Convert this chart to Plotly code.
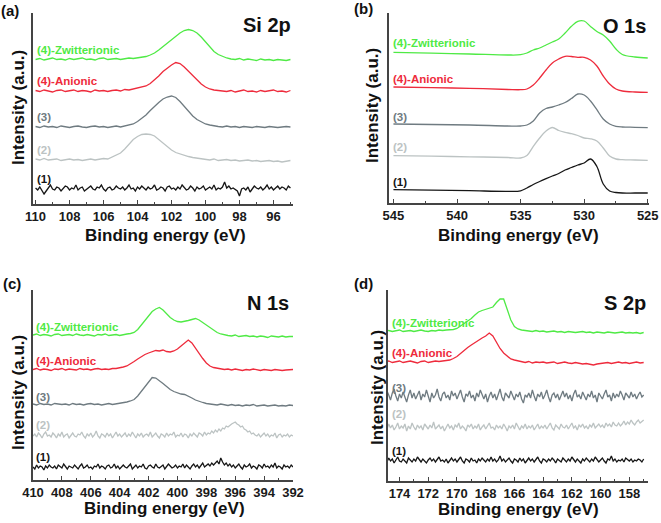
import numpy as np
import plotly.graph_objects as go

W, H = 661, 523

# ---------------- DATA ----------------
# Panel (a) Si 2p : 110 -> 95 eV
si_range = (110, 95)
si_1 = [16,14,17,14,10,13,16,19,15,14,
        17,16,13,15,18,17,14,16,15,19,
        14,16,17,13,15,16,18,15,14,17,
        16,19,15,13,16,17,14,15,18,16,
        15,17,14,16,19,15,16,13,17,15,
        18,16,14,17,15,16,19,14,15,17,
        16,13,17,18,15,16,14,17,15,19,
        16,14,15,18,16,13,17,15,16,18,
        14,16,17,15,19,14,16,15,17,22,
        16,18,15,16,14,13,8,15,16,14,
        17,12,15,18,16,15,17,14,16,19,
        15,17,14,16,18,15,17,16,14,18,
        16]
si_2 = [45,44,45.5,44,44.5,45,43.5,44.5,45,44,44.5,43.5,44.5,45,44,44.5,45.5,45,
        47,48.5,51,55,60,64.5,67.5,69.5,70,69.5,68,64.5,61,57,54,51.5,50,48.5,47.5,46.5,46,45,
        44.5,44,45,43.5,44,44.5,43.5,44,43,43.5,44,43,43.5,42.5,43,43.5,42.5,43,42,42.5,43.5]
si_3 = [77.5,76.5,78,77,77.5,76.5,78,77.5,76.5,77.5,78,77,76.5,77.5,78,77,77.5,76.5,77.5,78,77,78,
        78.5,80,82.5,85.5,89,93.5,98,101.5,105,107,108,106.5,102.5,97.5,92.5,88,84.5,82,80,79,78,
        77.5,77,78,77,77.5,76.5,77.5,77,76.5,77.5,77,76.5,77.5,77,76.5,77,77.5,77]
si_an = [113.5,112.5,114,113,112,113.5,114,112.5,113,114,112.5,113.5,113,112,114,113,113.5,112.5,113.5,114,113,114.5,114,115,
         115.5,116.5,118,120.5,124,128,132.5,136,139,141.5,140.5,137,132.5,128,124,120,117,115,114,
         113.5,113,112.5,113.5,112,113,114,112.5,113,112,113.5,112.5,113,114,112.5,113,112,113.5]
si_zw = [144.5,145.5,144,145,146,144.5,145,144,145.5,144.5,145,146,144.5,145,144,145.5,146,144.5,145,145.5,144.5,145,146,145.5,146,146.5,
         147.5,149,151,154,157.5,161,164.5,168,171,173.5,174.5,173.5,171,167,162,157,152.5,149.5,147.5,146,
         145,144.5,145.5,144,145,144.5,143.5,145,144,144.5,143.5,144.5,144,143.5,144.5]

# Panel (b) O 1s
o_x = [545, 542, 539, 536, 535, 534.5, 534, 533.5, 533, 532.5, 532, 531.5, 531,
       530.5, 530, 529.5, 529, 528.5, 528, 527.5, 527, 526, 525]
o_1 = [13.3, 12.8, 12.3, 11.7, 12.2, 15, 18.5, 21.5, 24.3, 27, 29.5, 33, 35.5,
       38, 40, 44, 36.5, 19, 12, 10.5, 10, 10, 10]
o_2 = [47.3, 46.8, 46.2, 45.5, 45, 47.5, 56.7, 65, 72, 75.5, 72.5, 70.7, 69.3,
       67.5, 65, 64.2, 62, 55, 47, 44, 43.3, 43, 42.7]
o_3 = [79, 78.5, 78, 77, 77, 78, 82, 90, 94.5, 96, 98, 100.5, 104.5,
       109, 108, 102, 93.3, 84, 79, 76.7, 76, 75.7, 75.3]
o_an = [116, 115.3, 114.7, 113.5, 113.3, 114, 118, 125, 133, 140, 144, 146.7, 146.5,
        145.7, 145.7, 143, 137, 127, 119, 114, 112, 111, 110.7]
o_zw = [150.7, 149.8, 149, 148, 148.3, 150, 153, 155, 158, 161, 164, 170, 176.7,
        181.7, 182, 176.5, 171.5, 168, 162, 154, 148.5, 146, 145]

# Panel (c) N 1s : 410 -> 392 eV
n_range = (410, 392)
n_1 = [13,11,15,12,14,13,10,14,12,15,
       13,12,14,11,15,13,12,16,13,11,
       14,13,12,15,13,11,14,16,12,13,
       15,12,13,11,14,13,16,12,14,13,
       11,14,15,12,13,16,12,14,11,13,
       15,13,12,14,16,11,13,15,12,14,
       13,16,12,11,14,15,13,12,16,13,
       12,14,15,11,13,16,14,12,13,15,
       12,14,13,16,12,15,13,11,14,16,
       13,15,12,14,17,13,15,16,14,17,
       15,17,19,16,22,18,15,17,14,16,
       13,15,12,14,16,13,11,15,13,14,
       16,12,14,13,11,15,14,12,16,13,
       14,12,15,13,17,12,14,13,11,15,
       13,14,12,15,13]
n_2 = [44,46,43,47,45,42,46,48,44,45,
       43,47,45,42,46,44,48,43,45,46,
       42,45,47,44,43,46,45,48,44,42,
       46,44,47,43,45,49,44,42,46,45,
       43,47,44,46,42,45,48,44,46,43,
       45,47,43,46,44,48,45,42,46,44,
       47,43,45,46,44,48,43,45,47,44,
       42,46,45,43,47,44,46,45,48,43,
       45,44,47,43,46,45,42,46,44,47,
       45,43,47,46,44,48,45,47,46,49,
       47,50,48,51,49,52,51,54,53,55,
       56,57,58,56,55,53,54,51,50,48,
       49,46,47,45,44,46,43,45,47,44,
       46,43,45,44,47,42,45,46,43,45,
       44,46,43,45,44]
n_3 = [76,75,76.5,75.5,76,75,76.5,76,75.5,76,75,76.5,75.5,76,75,76,76.5,75.5,76,75,76,76.5,75.5,76,76.5,77,
       78,79,80.5,84,88.5,93.5,98.5,102.5,102,99.5,96.5,93.5,90.5,88.5,87,86,85.5,84,82,80,78.5,77.5,76.5,
       76,75.5,75,76,75,74.5,75.5,74.5,75,74,75,74.5,75.5,74,74.5,75,74,74.5,75,74,74.5,74,75,74.5]
n_an = [110.5,111.5,110,111,110.5,109.5,111,110.5,111.5,110,111,110.5,110,111.5,110.5,111,110,111,111.5,110.5,111,110.5,111.5,111.5,
        112,113,114,116,118.5,121,123.5,125.5,127,128,129.5,129,130,128.5,128,129,131,134,137.5,140,137,131.5,126.5,121.5,117,114,112.5,112,
        111.5,110.5,111,110,111,110.5,109.5,110.5,110,111,110,109.5,110.5,110,109.5,110.5,110,109.5,110,110.5,110.5]
n_zw = [145,146,144.5,145.5,145,144,145.5,146,144.5,145,145.5,144.5,146,145,144.5,145.5,145,144,145.5,145,146,144.5,145,145.5,144.5,145.5,146,146.5,
        147.5,150.5,155,160,165,168.5,171,172.5,170,166,162.5,160,158.5,158,158.5,159.5,160.5,161.5,160,157.5,155,152,149.5,147.5,146,
        145,144.5,144,145,143.5,144,144.5,143.5,144,143,144,143.5,142.5,144,143.5,143,144,143,143.5,143.5]

# Panel (d) S 2p : 175 -> 157 eV
s_range = (175, 157)
s_1 = [21,19,23,20,22,18,21,24,20,19,
       22,20,18,23,21,19,22,20,24,21,
       19,22,20,18,21,23,20,22,19,21,
       24,20,21,19,22,18,21,23,20,22,
       19,21,24,20,18,22,21,19,23,20,
       21,18,22,20,23,21,19,22,20,24,
       20,22,19,21,25,20,22,19,21,23,
       20,18,22,21,19,23,20,22,18,21,
       23,20,22,19,21,24,20,18,22,21,
       19,22,20,23,21,18,22,20,19,23,
       21,19,22,20,24,21,19,22,20,18,
       22,20,23,21,19,22,20,24,21,19,
       21,23,20,18,22,21,25,20,22,19,
       21,20,22,19,23,21,20,22,19,21,
       20,22,21,19,22]
s_2 = [55,52,57,53,56,51,54,58,52,55,
       53,57,50,55,52,58,54,51,56,53,
       55,51,57,54,52,56,53,59,52,54,
       56,52,55,50,54,57,53,55,51,56,
       54,58,52,55,53,50,56,54,57,52,
       55,53,57,51,54,56,52,55,58,53,
       54,51,56,53,55,52,57,54,50,55,
       53,56,52,58,54,51,55,53,57,52,
       55,53,56,51,54,57,52,55,53,56,
       52,55,58,53,51,56,54,52,57,54,
       53,56,52,55,58,53,55,51,56,54,
       57,53,55,52,56,54,58,53,55,57,
       54,56,53,58,55,57,54,59,56,55,
       58,55,57,60,56,59,57,61,58,56,
       59,61,58,60,61]
s_3 = [84,90,86,81,88,92,85,80,87,83,
       89,84,79,86,91,83,88,82,86,90,
       81,87,84,91,85,79,88,83,86,92,
       84,80,87,89,83,86,81,90,85,88,
       82,86,91,84,79,87,85,90,83,86,
       80,88,84,91,86,82,87,79,85,89,
       83,87,81,86,92,84,80,88,85,83,
       90,86,81,87,84,89,82,78,86,84,
       88,83,91,85,80,87,84,89,82,86,
       91,84,79,86,88,83,87,81,85,90,
       84,88,82,86,80,87,91,84,86,82,
       89,85,81,87,84,90,83,86,79,88,
       85,82,87,91,84,86,80,88,83,87,
       84,90,86,81,88,85,83,89,84,87,
       82,86,89,84,86]
s_an = [119,120,118.5,119.5,120,118.5,119,120,119,118,119.5,120,118.5,119,120,119.5,120,120.5,
        121,122.5,124.5,127.5,131,133.5,136,138.5,141,143,145,148,145,139,132.5,128,124.5,122,121,120,
        119.5,118.5,119.5,118,119,118.5,119,118,118.5,119,117.5,118.5,119,118,117.5,118.5,118,117,117.5,116.5,
        116,117,117.5,118,118.5,117.5,118.5,119,118,118.5,117.5,118.5,119,118,118.5]
s_zw = [150,150.5,149.5,150,151,149.5,150,150.5,149.5,150,151,150,149.5,150.5,150,151,150.5,151,
        151,151.5,152.5,155,157.5,160,162.5,166,169,170.5,171.5,172.5,174,178.5,182,182,172,161,154.5,152,151,
        150.5,150,149.5,150.5,149.5,150,149,149.5,150,149,149.5,148.5,149.5,149,148.5,149,149.5,148.5,149,148,
        149,148.5,148,149,148.5,148,148.5,149,148,148.5,148,148.5,147.5,148.5]

series_names = ["(1)", "(2)", "(3)", "(4)-Anionic", "(4)-Zwitterionic"]
panel_titles = ["Si 2p", "O 1s", "N 1s", "S 2p"]
panel_letters = ["(a)", "(b)", "(c)", "(d)"]
x_title = "Binding energy (eV)"
y_title = "Intensity (a.u.)"

# ---------------- STYLE ----------------
colors = ["#161616", "#BCC3C3", "#6F7B81", "#EE2B3C", "#4FEA45"]
widths = [1.3, 1.3, 1.3, 1.3, 1.3]
FONT = "Liberation Sans, Arial, sans-serif"
AX = "#444444"

def px_x(x):
    return x / W

def px_y(y):
    return (H - y) / H

# panel geometry in pixels: (left, right, top, bottom)
geo = [(33, 293, 13, 204), (389, 649, 13, 203), (33, 293, 290, 480), (388, 648, 290, 481)]
xranges = [[110.15, 94.85], [545.35, 524.9], [410, 392], [174.8, 156.7]]
dticks = [2, 5, 2, 2]
minor_d = [1, 2.5, 1, 1]

fig = go.Figure()

def add_series(idx, xs_list, ys_list, shape="linear"):
    for k, (xs, ys) in enumerate(zip(xs_list, ys_list)):
        fig.add_trace(go.Scatter(
            x=xs, y=ys, mode="lines",
            line=dict(color=colors[k], width=widths[k], shape=shape),
            xaxis="x" if idx == 0 else f"x{idx+1}",
            yaxis="y" if idx == 0 else f"y{idx+1}",
            showlegend=False, hoverinfo="skip"))

def grid(rng, ys):
    return np.linspace(rng[0], rng[1], len(ys))

si = [si_1, si_2, si_3, si_an, si_zw]
add_series(0, [grid(si_range, y) for y in si], si)
ox = [o_1, o_2, o_3, o_an, o_zw]
add_series(1, [o_x] * 5, ox, shape="spline")
nn = [n_1, n_2, n_3, n_an, n_zw]
add_series(2, [grid(n_range, y) for y in nn], nn)
ss = [s_1, s_2, s_3, s_an, s_zw]
add_series(3, [grid(s_range, y) for y in ss], ss)

layout = dict(width=W, height=H, margin=dict(l=0, r=0, t=0, b=0, pad=0),
              paper_bgcolor="white", plot_bgcolor="white", showlegend=False)

for i, (l, r, t, b) in enumerate(geo):
    xa = "xaxis" if i == 0 else f"xaxis{i+1}"
    ya = "yaxis" if i == 0 else f"yaxis{i+1}"
    yr = [0, b - t]
    layout[xa] = dict(domain=[px_x(l), px_x(r)], range=xranges[i], autorange=False,
                      automargin=False,
                      anchor="y" if i == 0 else f"y{i+1}",
                      showline=True, linecolor=AX, linewidth=1.5,
                      ticks="inside", ticklen=4, tickwidth=1.2, tickcolor=AX,
                      tick0=0, dtick=dticks[i],
                      minor=dict(ticks="inside", ticklen=2.5, tickwidth=1, tickcolor=AX, dtick=minor_d[i]),
                      tickfont=dict(family=FONT, size=13, color="#1a1a1a", weight="bold"),
                      showgrid=False, zeroline=False)
    layout[ya] = dict(domain=[px_y(b), px_y(t)], range=yr, autorange=False,
                      automargin=False,
                      anchor="x" if i == 0 else f"x{i+1}",
                      showline=True, linecolor=AX, linewidth=1.5,
                      ticks="", showticklabels=False, showgrid=False, zeroline=False)

fig.update_layout(**layout)

ann = []
def text(x, y, s, size, color="#111111", xanchor="center", angle=0):
    ann.append(dict(x=px_x(x), y=px_y(y), xref="paper", yref="paper",
                    text=f"<b>{s}</b>", showarrow=False, xanchor=xanchor, yanchor="middle",
                    borderpad=0, textangle=angle, font=dict(family=FONT, size=size, color=color)))

label_pos = [
    [(36, 179), (36, 150), (36, 117), (36, 81), (36, 50)],
    [(392, 182), (392, 147), (392, 117), (392, 79), (392, 43)],
    [(35, 457), (35, 425), (35, 397), (35, 361), (35, 327)],
    [(391, 451), (391, 414), (391, 388), (391, 353), (391, 323)],
]
for p in range(4):
    for k in range(5):
        x, y = label_pos[p][k]
        text(x, y, series_names[k], 11.5, colors[k], xanchor="left")

title_pos = [(292, 25), (647, 26), (290, 303), (647, 303)]
for p in range(4):
    text(title_pos[p][0], title_pos[p][1], panel_titles[p], 20, "#111111", xanchor="right")

letter_pos = [(0, 10), (353, 9), (2, 283), (353, 283)]
for p in range(4):
    text(letter_pos[p][0], letter_pos[p][1], panel_letters[p], 15, "#111111", xanchor="left")

ytitle_pos = [(18, 108), (372, 105), (18, 393), (377, 388)]
for p in range(4):
    text(ytitle_pos[p][0], ytitle_pos[p][1], y_title, 17, "#111111", angle=-90)

xtitle_pos = [(165, 235), (518, 235), (164, 508), (518, 509)]
for p in range(4):
    text(xtitle_pos[p][0], xtitle_pos[p][1], x_title, 17, "#111111")

fig.update_layout(annotations=ann)
fig.write_html("out.html", config={"displayModeBar": False},
               post_script="document.body.style.margin='0';document.body.style.overflow='hidden';")
